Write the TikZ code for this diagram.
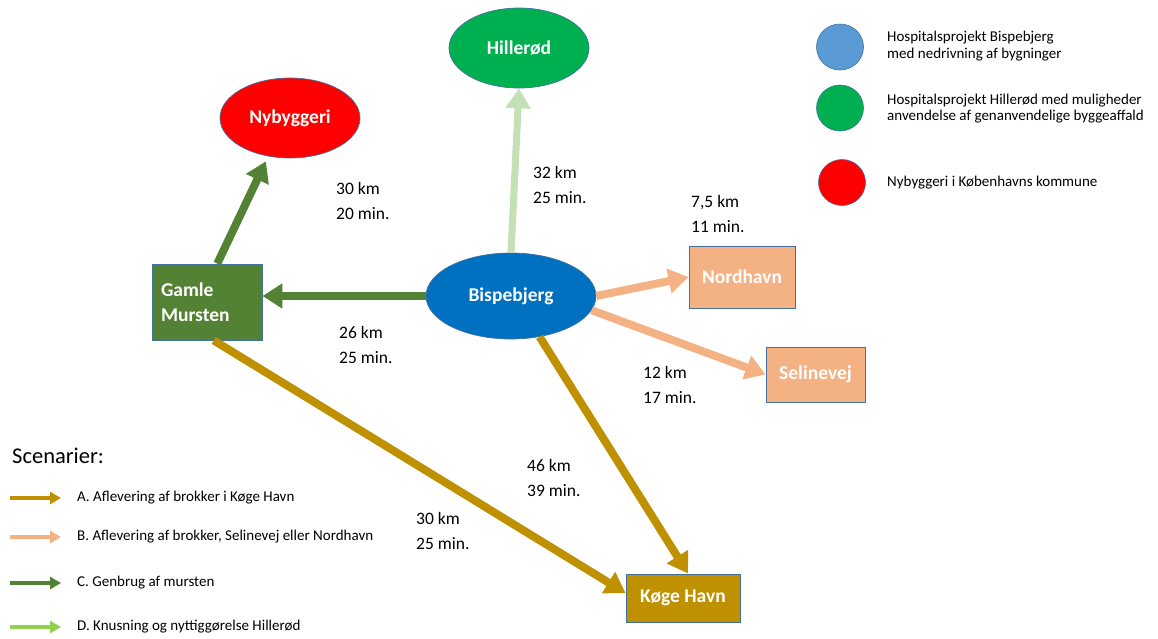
\documentclass[tikz,border=0pt]{standalone}
\usepackage{fontspec}
\setmainfont{Carlito}
\usetikzlibrary{arrows.meta,shapes.geometric}
\definecolor{bisblue}{HTML}{0070C0}
\definecolor{keyblue}{HTML}{5B9BD5}
\definecolor{hilgreen}{HTML}{00B050}
\definecolor{nybred}{HTML}{FF0000}
\definecolor{brickgreen}{HTML}{548235}
\definecolor{peach}{HTML}{F4B183}
\definecolor{harbgold}{HTML}{BF9000}
\definecolor{palegreen}{HTML}{C5E0B4}
\definecolor{limegreen}{HTML}{92D050}
\definecolor{edgeblue}{HTML}{41719C}

\begin{document}
\begin{tikzpicture}[
  x=1pt, y=-1pt,
  place/.style={ellipse, draw=edgeblue, line width=0.7pt, inner sep=0pt,
    text=white, font=\fontsize{19.5}{23}\selectfont\bfseries},
  site/.style={rectangle, draw=edgeblue, line width=0.9pt, inner sep=0pt,
    text=white, font=\fontsize{19.5}{25}\selectfont\bfseries},
  route/.style={line width=8pt, -{Triangle[width=24pt,length=20pt]}},
  dist/.style={anchor=west, inner sep=0pt, align=left,
    font=\fontsize{17.5}{25}\selectfont},
  key/.style={line width=4pt, -{Triangle[width=12pt,length=11pt]}},
  keytext/.style={anchor=west, inner sep=0pt, align=left,
    font=\fontsize{15}{16.5}\selectfont},
  dot/.style={ellipse, draw=edgeblue, line width=0.6pt, inner sep=0pt,
    minimum width=47pt, minimum height=46pt}
]
\useasboundingbox (0,0) rectangle (1158,638);

% places
\node[place, fill=bisblue, minimum width=170pt, minimum height=86pt] (bisp) at (511,296) {Bispebjerg};
\node[place, fill=hilgreen, minimum width=140pt, minimum height=80pt] (hill) at (519,48) {Hillerød};
\node[place, fill=nybred, minimum width=140pt, minimum height=80pt] (nyb) at (290,118) {Nybyggeri};

% sites
\node[site, fill=brickgreen, text width=92pt, align=left, inner xsep=9pt,
  minimum height=76pt] (gamle) at (207,302) {Gamle\\Mursten};
\node[site, fill=peach, minimum width=106pt, minimum height=62pt] (nord) at (742,277) {Nordhavn};
\node[site, fill=peach, minimum width=99pt, minimum height=55pt] (seli) at (815.5,374.5) {Selinevej};
\node[site, fill=harbgold, minimum width=114pt, minimum height=48pt] (koge) at (683,598) {Køge Havn};

% routes
\draw[route, palegreen, line width=7pt] (bisp.north) -- (hill.south);
\draw[route, brickgreen] (bisp.west) -- (gamle.east |- bisp.west);
\draw[route, brickgreen] (gamle.75) -- ([shift={(-2,5)}]nyb.-120);
\draw[route, peach] (bisp.east) -- (nord.west);
\draw[route, peach] (bisp.-10) -- (seli.west);
\draw[route, harbgold] (bisp.-55) -- ([xshift=5pt]koge.north);
\draw[route, harbgold] (gamle.-80) -- (koge.175);

% distances
\node[dist] (dhill) at (533,184.5) {32 km\\25 min.};
\node[dist] (dnyb) at (336,201) {30 km\\20 min.};
\node[dist] (dnord) at (691,213.5) {7,5 km\\11 min.};
\node[dist] (dgamle) at (339,345) {26 km\\25 min.};
\node[dist] (dseli) at (643,385) {12 km\\17 min.};
\node[dist] (dkoge) at (527,477.5) {46 km\\39 min.};
\node[dist] (dkogeg) at (416,530.5) {30 km\\25 min.};

% scenarios
\node[anchor=west, inner sep=0pt, font=\fontsize{22.5}{26}\selectfont] (scen) at (12,456) {Scenarier:};
\foreach \i/\y/\c/\t in {
    a/498/harbgold/A. Aflevering af brokker i Køge Havn,
    b/537/peach/B. Aflevering af brokker{,} Selinevej eller Nordhavn,
    c/583/brickgreen/C. Genbrug af mursten,
    d/627/limegreen/D. Knusning og nyttiggørelse Hillerød} {
  \coordinate (from\i) at (10,\y);
  \coordinate (to\i) at (61,\y);
  \draw[key, \c] (from\i) -- (to\i);
  \node[keytext] (key\i) at (77,\y) {\t};
}

% projects
\node[dot, fill=keyblue] (dotbisp) at (840,47) {};
\node[dot, fill=hilgreen] (dothill) at (840,108) {};
\node[dot, fill=nybred] (dotnyb) at (842,182.5) {};
\node[keytext] (txtbisp) at (887,46) {Hospitalsprojekt Bispebjerg\\med nedrivning af bygninger};
\node[keytext] (txthill) at (887,108.5) {Hospitalsprojekt Hillerød med muligheder\\anvendelse af genanvendelige byggeaffald};
\node[keytext] (txtnyb) at (887,183) {Nybyggeri i Københavns kommune};
\end{tikzpicture}
\end{document}
